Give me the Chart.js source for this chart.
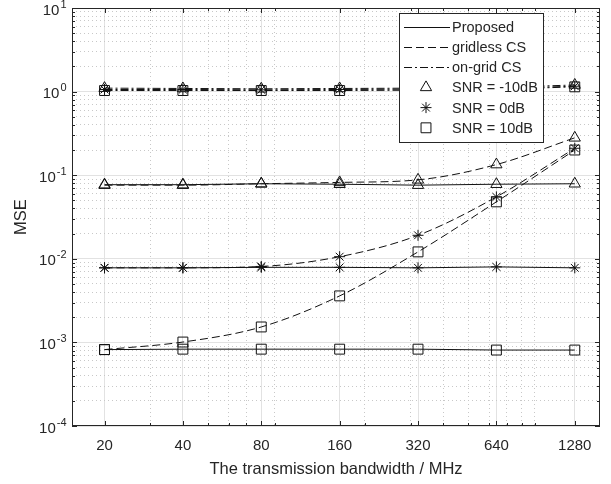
<!DOCTYPE html>
<html>
<head>
<meta charset="utf-8">
<script src="https://cdn.jsdelivr.net/npm/chart.js@4.4.1/dist/chart.umd.min.js"></script>
<style>
  html, body { margin: 0; padding: 0; background: #fff; }
  #wrap { width: 611px; height: 484px; }
</style>
</head>
<body>
<div id="wrap"><canvas id="chart" width="611" height="484"></canvas></div>
<script>
// bandwidth in MHz (x axis, log scale)
const bandwidths = [20, 40, 80, 160, 320, 640, 1280];
const xMinorTicks = [30, 50, 60, 70, 90, 200, 300, 400, 500, 600, 700, 800, 900];
const yExponents = [-4, -3, -2, -1, 0, 1];

// MSE values
const proposedM10 = [0.077, 0.077, 0.079, 0.078, 0.076, 0.078, 0.079];
const gridlessM10 = [0.076, 0.076, 0.079, 0.082, 0.088, 0.134, 0.28];
const ongridM10   = [1.10, 1.09, 1.08, 1.09, 1.10, 1.12, 1.20];

const proposed0 = [0.0078, 0.0078, 0.0079, 0.0079, 0.0078, 0.0080, 0.0078];
const gridless0 = [0.0078, 0.0078, 0.0081, 0.0106, 0.0191, 0.055, 0.21];
const ongrid0   = [1.06, 1.06, 1.05, 1.06, 1.07, 1.09, 1.16];

const proposed10 = [0.00082, 0.00083, 0.00083, 0.00083, 0.00083, 0.00081, 0.00081];
const gridless10 = [0.00082, 0.00101, 0.00153, 0.0036, 0.0121, 0.048, 0.20];
const ongrid10   = [1.03, 1.03, 1.03, 1.03, 1.04, 1.06, 1.14];

const methodNames = ['Proposed', 'gridless CS', 'on-grid CS'];
const snrNames = ['SNR = -10dB', 'SNR = 0dB', 'SNR = 10dB'];

const FONT = "'Liberation Sans', Arial, Helvetica, sans-serif";
const TXT = '#262626';
const LINE = '#111';

const dashes = { solid: [], dashed: [8, 4], dashdot: [8, 3, 2, 3] };
const markers = [
  { style: 'triangle', radius: 6.5 },
  { style: 'star', radius: 5.5 },
  { style: 'rect', radius: 7 }
];

function toPoints(values) {
  return values.map((v, i) => ({ x: bandwidths[i], y: v }));
}

function makeSet(values, dash, m, smooth) {
  return {
    data: toPoints(values),
    borderColor: LINE,
    borderWidth: 1,
    borderDash: dash,
    pointStyle: m.style,
    pointRadius: m.radius,
    pointHoverRadius: m.radius,
    pointBorderColor: LINE,
    pointBackgroundColor: 'rgba(0,0,0,0)',
    pointBorderWidth: 1,
    cubicInterpolationMode: smooth ? 'monotone' : 'default',
    tension: 0,
    fill: false
  };
}

const datasets = [
  makeSet(ongridM10, dashes.dashdot, markers[0]),
  makeSet(ongrid0, dashes.dashdot, markers[1]),
  makeSet(ongrid10, dashes.dashdot, markers[2]),
  makeSet(proposedM10, dashes.solid, markers[0]),
  makeSet(gridlessM10, dashes.dashed, markers[0], true),
  makeSet(proposed0, dashes.solid, markers[1]),
  makeSet(gridless0, dashes.dashed, markers[1], true),
  makeSet(proposed10, dashes.solid, markers[2]),
  makeSet(gridless10, dashes.dashed, markers[2], true)
];

function isMajorX(v) { return bandwidths.includes(v); }
function isMajorY(v) { return yExponents.some(k => Math.abs(Math.log10(v) - k) < 1e-6); }

function yTickValues() {
  const out = [];
  yExponents.forEach(k => {
    out.push(Math.pow(10, k));
    if (k < 1) for (let m = 2; m <= 9; m++) out.push(m * Math.pow(10, k));
  });
  return out;
}

// inward tick marks, axes box, superscript y labels and legend
const decorPlugin = {
  id: 'decor',
  afterDraw(chart) {
    const { ctx, chartArea: a, scales: { x, y } } = chart;
    ctx.save();
    ctx.strokeStyle = TXT;
    ctx.lineWidth = 1;
    ctx.setLineDash([]);
    ctx.beginPath();
    bandwidths.concat(xMinorTicks).forEach(v => {
      const px = Math.round(x.getPixelForValue(v)) + 0.5;
      const len = isMajorX(v) ? 5 : 3;
      ctx.moveTo(px, a.bottom); ctx.lineTo(px, a.bottom - len);
      ctx.moveTo(px, a.top); ctx.lineTo(px, a.top + len);
    });
    yTickValues().forEach(v => {
      const py = Math.round(y.getPixelForValue(v)) + 0.5;
      const len = isMajorY(v) ? 5 : 3;
      ctx.moveTo(a.left, py); ctx.lineTo(a.left + len, py);
      ctx.moveTo(a.right, py); ctx.lineTo(a.right - len, py);
    });
    ctx.stroke();
    ctx.strokeRect(a.left + 0.5, a.top + 0.5, a.right - a.left - 1, a.bottom - a.top - 1);

    // y tick labels 10^k
    ctx.fillStyle = TXT;
    ctx.textBaseline = 'middle';
    const xr = 66.5;
    yExponents.forEach(k => {
      const py = y.getPixelForValue(Math.pow(10, k));
      const ex = String(k);
      ctx.font = '11px ' + FONT;
      const ew = ctx.measureText(ex).width;
      ctx.textAlign = 'left';
      ctx.fillText(ex, xr - ew, py - 3.5);
      ctx.font = '15px ' + FONT;
      ctx.textAlign = 'right';
      ctx.fillText('10', xr - ew - 1, py + 2.5);
    });

    // legend
    const lx = 399.5, ly = 13.5, lw = 144, lh = 129;
    ctx.fillStyle = '#fff';
    ctx.fillRect(lx, ly, lw, lh);
    ctx.strokeStyle = TXT;
    ctx.strokeRect(lx, ly, lw, lh);
    const rowY0 = 26.8, rowStep = 20.2;
    const lineDash = [dashes.solid, dashes.dashed, dashes.dashdot];
    ctx.font = '14.5px ' + FONT;
    ctx.textAlign = 'left';
    ctx.textBaseline = 'middle';
    for (let i = 0; i < 6; i++) {
      const ry = rowY0 + i * rowStep;
      ctx.strokeStyle = LINE;
      if (i < 3) {
        ctx.setLineDash(lineDash[i]);
        ctx.beginPath();
        ctx.moveTo(404, Math.round(ry) + 0.5);
        ctx.lineTo(450, Math.round(ry) + 0.5);
        ctx.stroke();
        ctx.setLineDash([]);
      } else {
        const m = markers[i - 3];
        ctx.fillStyle = 'rgba(0,0,0,0)';
        Chart.helpers.drawPoint(ctx, { pointStyle: m.style, radius: m.radius, borderWidth: 1 }, 426, ry);
      }
      ctx.fillStyle = TXT;
      ctx.font = '14.5px ' + FONT;
      ctx.fillText(i < 3 ? methodNames[i] : snrNames[i - 3], 452, ry + 1);
    }
    ctx.restore();
  }
};

new Chart(document.getElementById('chart'), {
  type: 'line',
  data: { datasets },
  options: {
    responsive: false,
    animation: false,
    layout: { padding: { top: 5, right: 11, left: 0, bottom: 0 } },
    plugins: { legend: { display: false }, tooltip: { enabled: false } },
    scales: {
      x: {
        type: 'logarithmic',
        min: 15,
        max: 1600,
        afterBuildTicks: s => {
          s.ticks = bandwidths.concat(xMinorTicks).sort((p, q) => p - q).map(v => ({ value: v, major: isMajorX(v) }));
        },
        afterFit: s => { s.height = 58; },
        ticks: {
          autoSkip: false,
          maxRotation: 0,
          padding: 11,
          color: TXT,
          font: { family: FONT, size: 15 },
          callback: v => isMajorX(v) ? String(v) : ''
        },
        grid: {
          drawTicks: false,
          color: c => (c.tick && isMajorX(c.tick.value)) ? '#e2e2e2' : '#c8c8c8',
          lineWidth: 1
        },
        border: { display: false, dash: c => (c.tick && !isMajorX(c.tick.value)) ? [1, 3] : [] },
        title: {
          display: true,
          text: 'The transmission bandwidth / MHz',
          color: TXT,
          font: { family: FONT, size: 16.5 },
          padding: { top: 0, bottom: 5 }
        }
      },
      y: {
        type: 'logarithmic',
        min: 1e-4,
        max: 10,
        afterBuildTicks: s => {
          s.ticks = yTickValues().sort((p, q) => p - q).map(v => ({ value: v, major: isMajorY(v) }));
        },
        afterFit: s => { s.width = 72; },
        ticks: { display: false },
        grid: {
          drawTicks: false,
          color: c => (c.tick && isMajorY(c.tick.value)) ? '#e2e2e2' : '#c8c8c8',
          lineWidth: 1
        },
        border: { display: false, dash: c => (c.tick && !isMajorY(c.tick.value)) ? [1, 3] : [] },
        title: {
          display: true,
          text: 'MSE',
          color: TXT,
          font: { family: FONT, size: 16.5 },
          padding: { top: 12, bottom: 0 }
        }
      }
    }
  },
  plugins: [decorPlugin]
});
</script>
</body>
</html>
